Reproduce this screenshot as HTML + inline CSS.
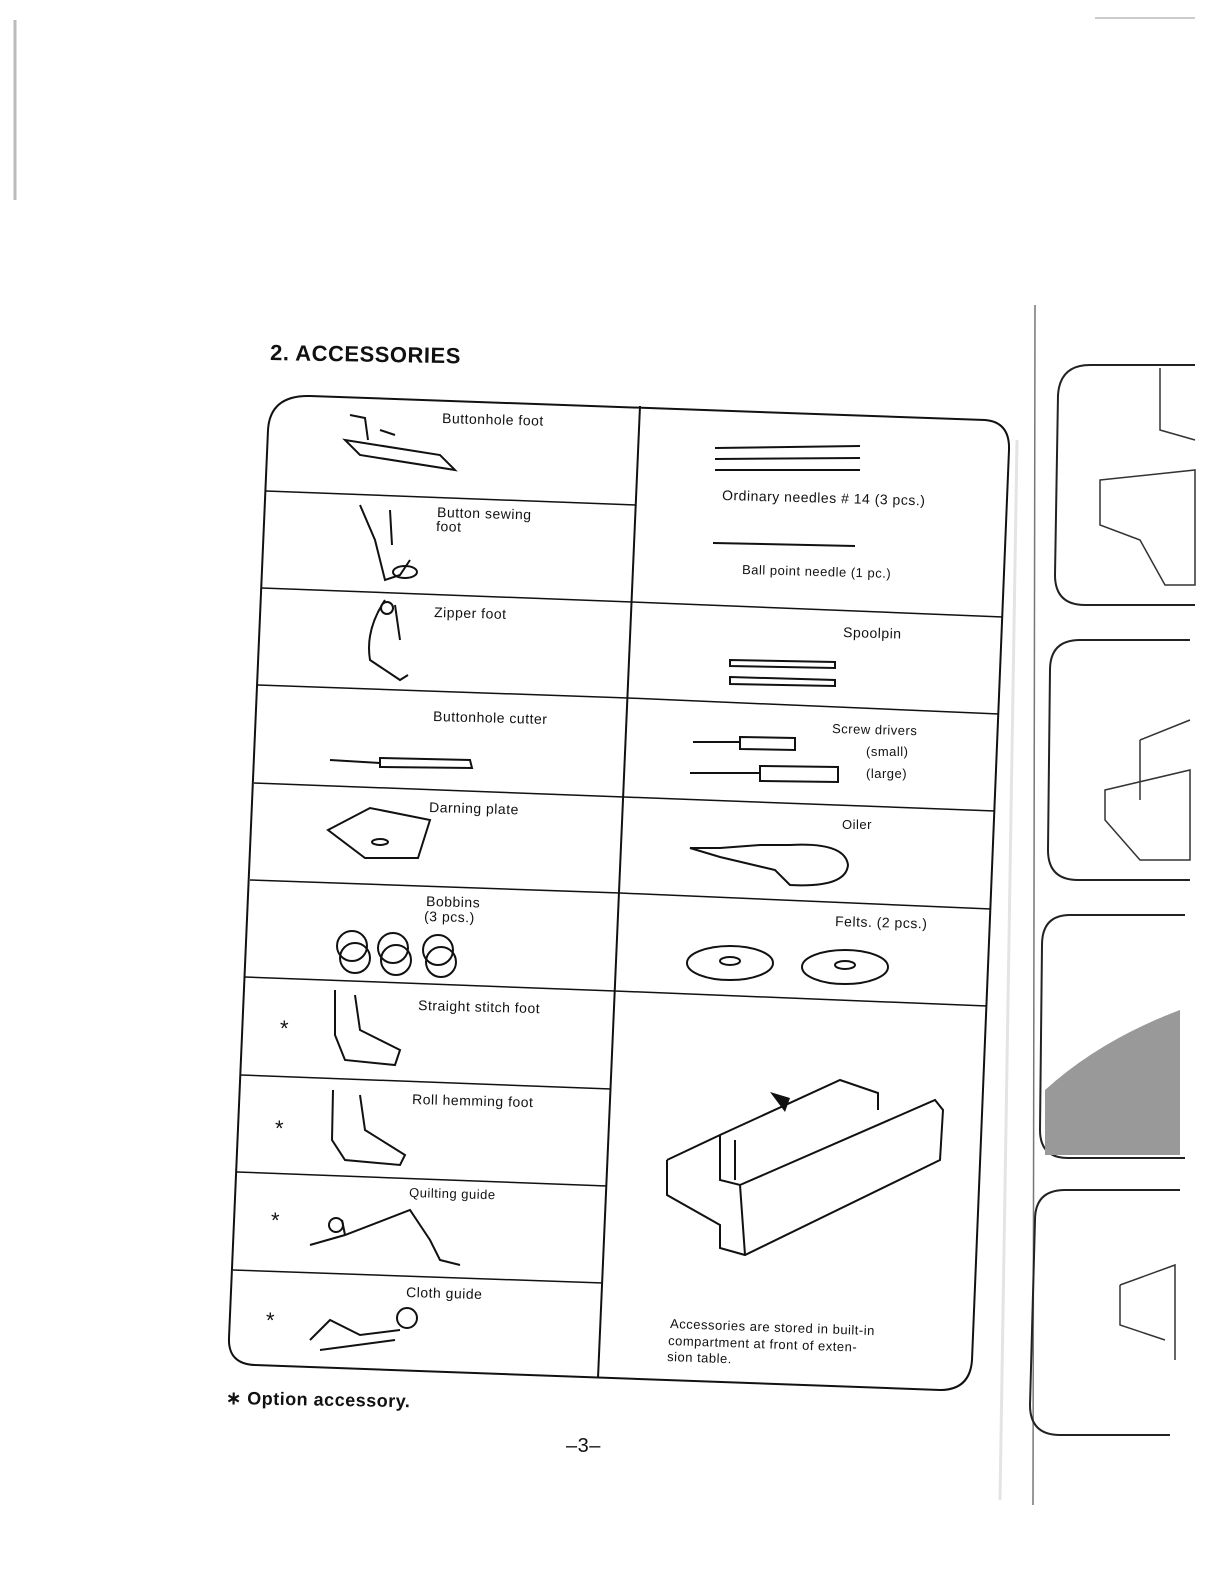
<!DOCTYPE html>
<html><head><meta charset="utf-8"><style>
html,body{margin:0;padding:0;background:#fff;}
svg{display:block}
text{font-family:"Liberation Sans",sans-serif;fill:#111;letter-spacing:0.5px}
</style></head><body>
<svg width="1224" height="1584" viewBox="0 0 1224 1584" xmlns="http://www.w3.org/2000/svg">
<rect width="1224" height="1584" fill="#fff"/>
<line x1="15" y1="20" x2="15" y2="200" stroke="#bbb" stroke-width="3"/>
<line x1="1095" y1="18" x2="1195" y2="18" stroke="#999" stroke-width="1"/>
<line x1="1035" y1="305" x2="1033" y2="1505" stroke="#777" stroke-width="1.5"/>
<line x1="1017" y1="440" x2="1000" y2="1500" stroke="#e4e4e4" stroke-width="3"/>
<path d="M1195 365 H1090 Q1060 365 1058 395 L1055 575 Q1055 605 1085 605 H1195" fill="none" stroke="#222" stroke-width="2"/>
<path d="M1190 640 H1080 Q1050 640 1050 670 L1048 850 Q1048 880 1078 880 H1190" fill="none" stroke="#222" stroke-width="2"/>
<path d="M1185 915 H1070 Q1042 915 1042 945 L1040 1130 Q1040 1158 1068 1158 H1185" fill="none" stroke="#222" stroke-width="2"/>
<path d="M1180 1190 H1065 Q1035 1190 1035 1220 L1030 1405 Q1030 1435 1060 1435 H1170" fill="none" stroke="#222" stroke-width="2"/>
<path d="M1160 368 L1160 430 L1195 440 M1100 480 L1195 470 L1195 585 L1165 585 L1140 540 L1100 525 Z" fill="none" stroke="#333" stroke-width="1.5"/>
<path d="M1140 740 L1190 720 M1140 740 L1140 800 M1105 790 L1190 770 L1190 860 L1140 860 L1105 820 Z" fill="none" stroke="#333" stroke-width="1.5"/>
<path d="M1045 1090 Q1100 1040 1180 1010 L1180 1155 L1045 1155 Z" fill="#999"/>
<path d="M1120 1285 L1175 1265 L1175 1360 M1120 1285 L1120 1325 L1165 1340" fill="none" stroke="#333" stroke-width="1.5"/>

<text x="270" y="360" font-size="22" font-weight="bold" transform="rotate(1 270 360)">2. ACCESSORIES</text>

<g fill="none" stroke="#111" stroke-width="2">
<path d="M268 430 Q270 395 310 396 L985 420 Q1010 422 1009 450 L972 1360 Q970 1390 940 1390 L255 1365 Q228 1364 229 1338 L268 430"/>
<path d="M640 406 L598 1378"/>
<g stroke-width="1.5">
<line x1="266" y1="491" x2="636" y2="505"/>
<line x1="262" y1="588" x2="632" y2="602"/>
<line x1="258" y1="685" x2="628" y2="698"/>
<line x1="254" y1="783" x2="624" y2="797"/>
<line x1="250" y1="880" x2="620" y2="893"/>
<line x1="245" y1="977" x2="615" y2="991"/>
<line x1="241" y1="1075" x2="611" y2="1089"/>
<line x1="237" y1="1172" x2="607" y2="1186"/>
<line x1="233" y1="1270" x2="603" y2="1283"/>
<line x1="632" y1="602" x2="1003" y2="617"/>
<line x1="628" y1="698" x2="999" y2="714"/>
<line x1="624" y1="797" x2="995" y2="811"/>
<line x1="620" y1="893" x2="991" y2="909"/>
<line x1="615" y1="991" x2="987" y2="1006"/>
</g>
</g>

<g font-size="14">
<text x="442" y="423" transform="rotate(1.5 442 423)">Buttonhole foot</text>
<text x="437" y="517" transform="rotate(1.5 437 517)">Button sewing</text>
<text x="436" y="531" transform="rotate(1.5 436 531)">foot</text>
<text x="434" y="617" transform="rotate(1.5 434 617)">Zipper  foot</text>
<text x="433" y="721" transform="rotate(1.5 433 721)">Buttonhole cutter</text>
<text x="429" y="812" transform="rotate(1.5 429 812)">Darning  plate</text>
<text x="426" y="906" transform="rotate(1.5 426 906)">Bobbins</text>
<text x="424" y="921" transform="rotate(1.5 424 921)">(3  pcs.)</text>
<text x="418" y="1010" transform="rotate(1.5 418 1010)">Straight stitch foot</text>
<text x="412" y="1104" transform="rotate(1.5 412 1104)">Roll hemming foot</text>
<text x="409" y="1197" font-size="13" transform="rotate(1.5 409 1197)">Quilting  guide</text>
<text x="406" y="1297" transform="rotate(1.5 406 1297)">Cloth  guide</text>
<text x="722" y="500" transform="rotate(1.5 722 500)">Ordinary needles  # 14  (3 pcs.)</text>
<text x="742" y="574" font-size="13" transform="rotate(1.5 742 574)">Ball point needle (1 pc.)</text>
<text x="843" y="637" transform="rotate(1.5 843 637)">Spoolpin</text>
<text x="832" y="733" font-size="13" transform="rotate(1.5 832 733)">Screw drivers</text>
<text x="866" y="756" font-size="13">(small)</text>
<text x="866" y="778" font-size="13">(large)</text>
<text x="842" y="829" font-size="13">Oiler</text>
<text x="835" y="926" transform="rotate(1.5 835 926)">Felts. (2 pcs.)</text>
<text x="670" y="1328" font-size="13" transform="rotate(2 670 1328)">Accessories are stored in built-in</text>
<text x="668" y="1345" font-size="13" transform="rotate(2 668 1345)">compartment  at  front  of  exten-</text>
<text x="667" y="1361" font-size="13" transform="rotate(2 667 1361)">sion  table.</text>
</g>
<g font-size="22">
<text x="280" y="1036">*</text><text x="275" y="1136">*</text><text x="271" y="1228">*</text><text x="266" y="1328">*</text>
</g>
<text x="226" y="1404" font-size="18" font-weight="bold" transform="rotate(1 226 1404)">∗ Option accessory.</text>
<text x="566" y="1452" font-size="20">–3–</text>

<g fill="none" stroke="#111" stroke-width="2">
<path d="M345 440 L440 455 L455 470 L360 455 Z M350 415 L365 418 L368 440 M380 430 L395 435"/>
<path d="M360 505 L375 540 L385 580 L400 575 L410 560 M390 510 L392 545"/>
<ellipse cx="405" cy="572" rx="12" ry="6"/>
<path d="M385 600 Q365 630 370 660 L400 680 L408 675 M395 605 L400 640"/>
<circle cx="387" cy="608" r="6"/>
<path d="M330 760 L380 763 M380 758 L470 760 L472 768 L380 767 Z"/>
<path d="M328 830 L370 808 L430 820 L418 858 L365 858 Z"/>
<ellipse cx="380" cy="842" rx="8" ry="3"/>
<circle cx="352" cy="946" r="15"/><circle cx="393" cy="948" r="15"/><circle cx="438" cy="950" r="15"/>
<circle cx="355" cy="958" r="15"/><circle cx="396" cy="960" r="15"/><circle cx="441" cy="962" r="15"/>
<path d="M335 990 L335 1035 L345 1060 L395 1065 L400 1050 L360 1030 L355 995"/>
<path d="M333 1090 L332 1140 L345 1160 L400 1165 L405 1155 L365 1130 L360 1095"/>
<path d="M310 1245 L345 1235 L410 1210 L430 1240 L440 1260 L460 1265 M345 1235 L342 1220"/>
<circle cx="336" cy="1225" r="7"/>
<path d="M310 1340 L330 1320 L360 1335 L400 1330 M320 1350 L395 1340"/>
<circle cx="407" cy="1318" r="10"/>
<path d="M715 448 L860 446 M715 459 L860 458 M715 470 L860 470 M713 543 L855 546"/>
<path d="M730 660 L835 662 L835 668 L730 666 Z M730 677 L835 680 L835 686 L730 684 Z"/>
<path d="M693 742 L740 742 M740 737 L795 738 L795 750 L740 749 Z M690 773 L760 773 M760 766 L838 767 L838 782 L760 781 Z"/>
<path d="M690 848 L720 848 L760 845 L790 845 Q845 842 848 865 Q846 888 790 885 L775 870 L720 857 Z"/>
<ellipse cx="730" cy="963" rx="43" ry="17"/><ellipse cx="730" cy="961" rx="10" ry="4"/>
<ellipse cx="845" cy="967" rx="43" ry="17"/><ellipse cx="845" cy="965" rx="10" ry="4"/>
<path d="M667 1160 L667 1195 L720 1225 L720 1248 L745 1255 L940 1160 L943 1110 L935 1100 L740 1185 L720 1180 L720 1135 L840 1080 L878 1093 L878 1110 M667 1160 L720 1135 M740 1185 L745 1255 M735 1140 L735 1180"/>
</g>
<path d="M770 1092 L790 1098 L785 1112 Z" fill="#111"/>
</svg>
</body></html>
